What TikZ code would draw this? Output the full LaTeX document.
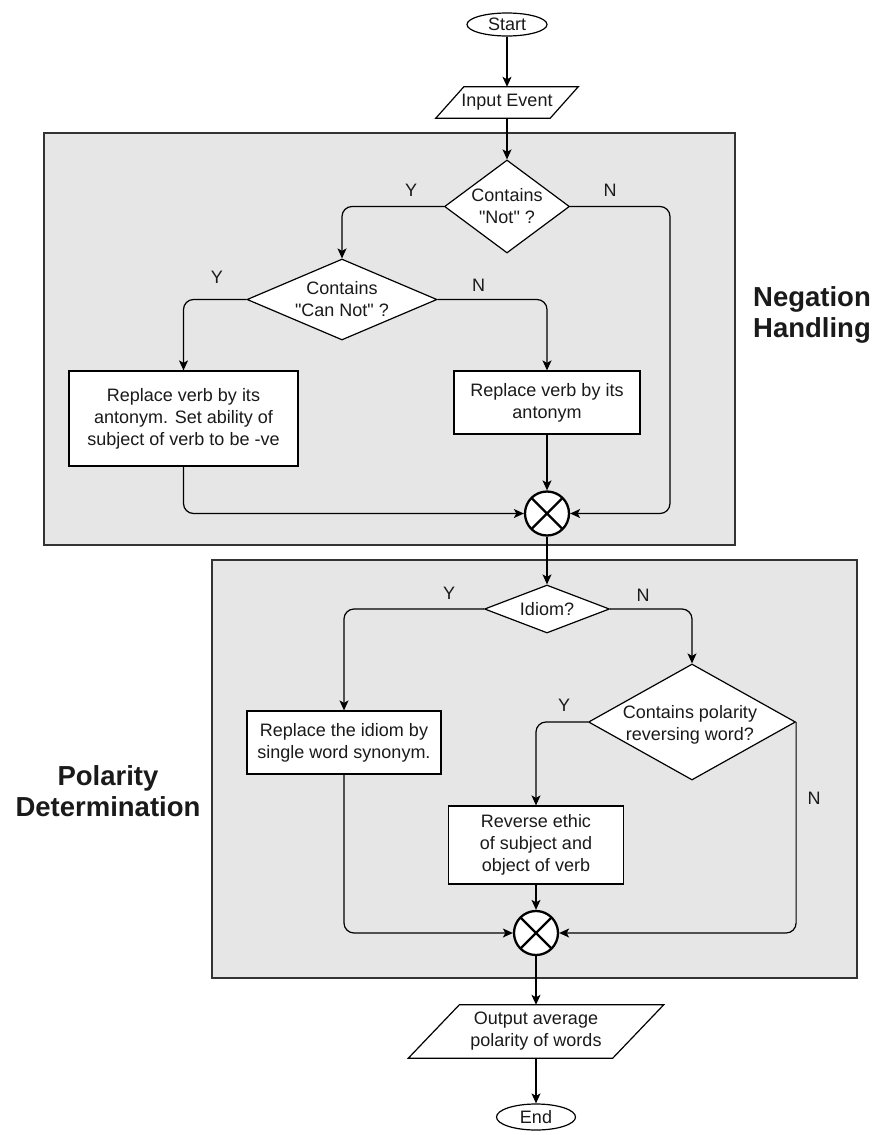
\documentclass[tikz,border=0pt]{standalone}
\usepackage{fontspec}
\newfontfamily\diagfont{Liberation Sans}
\usetikzlibrary{shapes.geometric,arrows.meta,calc}
\definecolor{secfill}{HTML}{E6E6E6}
\definecolor{secline}{HTML}{333333}
\definecolor{txt}{HTML}{1A1A1A}
\begin{document}
\begin{tikzpicture}[x=1pt,y=-1pt,
  every node/.style={text=txt,font=\diagfont\fontsize{18}{22}\selectfont},
  section/.style={draw=secline,fill=secfill,line width=1.3},
  flow/.style={draw=black,line width=1.2,rounded corners=10,-{Stealth[length=10pt,width=9pt,inset=2.5pt]}},
  terminal/.style={ellipse,draw=black,fill=white,line width=1.2,inner sep=0pt},
  procbox/.style={rectangle,draw=black,fill=white,line width=1.2,align=center,inner sep=0pt},
  decision/.style={diamond,draw=black,fill=white,line width=1.2,inner sep=0pt},
  ioshape/.style={rectangle,inner sep=0pt,align=center},
  joiner/.style={circle,draw=black,fill=white,line width=2.3,minimum size=44pt,inner sep=0pt,
    path picture={\draw[line width=2.3] (path picture bounding box.north west)--(path picture bounding box.south east)
      (path picture bounding box.north east)--(path picture bounding box.south west);}},
  yn/.style={inner sep=0pt},
  seclabel/.style={align=center,inner sep=0pt,font=\diagfont\bfseries\fontsize{27.5}{31}\selectfont}
]
\useasboundingbox (0,0) rectangle (875,1135);
\fill[white] (0,0) rectangle (875,1135);

% section backgrounds
\draw[section] (44,133) rectangle (735,545);
\draw[section] (212,560) rectangle (857,978);
\node[seclabel] (neglabel) at (812,315) {Negation\\Handling};
\node[seclabel] (pollabel) at (108,791.5) {Polarity\\Determination};

% nodes
\node[terminal,minimum width=80pt,minimum height=23pt] (start) at (507,24.5) {Start};
\node[ioshape,minimum width=114pt,minimum height=31pt] (input) at (507,102.5) {};
\draw[line width=1.2,fill=white] ($(input.south west)+(-14,0)$) -- ($(input.north west)+(14,0)$)
  -- ($(input.north east)+(14,0)$) -- ($(input.south east)+(-14,0)$) -- cycle;
\node[inner sep=0pt] (inputt) at (input) {Input Event};

\node[decision,minimum width=125pt,minimum height=93pt] (d1) at (507,206.5) {};
\node[align=center,inner sep=0pt] (d1t) at (d1) {Contains\\"Not" ?};
\node[decision,minimum width=190pt,minimum height=81pt] (d2) at (342,299.5) {};
\node[align=center,inner sep=0pt] (d2t) at (d2) {Contains\\"Can Not" ?};

\node[procbox,minimum width=229pt,minimum height=95pt] (b1) at (183.5,418.5)
  {Replace verb by its\\antonym. Set ability of\\subject of verb to be -ve};
\node[procbox,minimum width=186pt,minimum height=63pt] (b2) at (547,402.5)
  {Replace verb by its\\antonym};
\node[joiner] (c1) at (547,513.5) {};
\coordinate (nR) at (670,513.5);

\node[decision,minimum width=125pt,minimum height=48pt] (d3) at (547,609) {};
\node[inner sep=0pt] (d3t) at (d3) {Idiom?};
\node[decision,minimum width=207pt,minimum height=116pt] (d4) at (692,722) {};
\node[align=center,inner sep=0pt] (d4t) at (690,725) {Contains polarity\\reversing word?};

\node[procbox,minimum width=194pt,minimum height=63pt] (b3) at (344,742.5)
  {Replace the idiom by\\single word synonym.};
\node[procbox,minimum width=175pt,minimum height=78pt] (b4) at (536,845)
  {Reverse ethic\\of subject and\\object of verb};
\node[joiner] (c2) at (536,933) {};

\node[ioshape,minimum width=204pt,minimum height=53pt] (output) at (536,1031.5) {};
\draw[line width=1.2,fill=white] ($(output.south west)+(-25.5,0)$) -- ($(output.north west)+(25.5,0)$)
  -- ($(output.north east)+(25.5,0)$) -- ($(output.south east)+(-25.5,0)$) -- cycle;
\node[align=center,inner sep=0pt] (outputt) at (output) {Output average\\polarity of words};
\node[terminal,minimum width=79pt,minimum height=26pt] (end) at (536,1117) {End};

% connectors
\draw[flow] (start) -- (input);
\draw[flow] (input.south) -- (d1.north);
\draw[flow] (d1.west) -| (d2.north);
\draw[flow] (d1.east) -| (nR) -- (c1.east);
\draw[flow] (d2.west) -| (b1.north);
\draw[flow] (d2.east) -| (b2.north);
\draw[flow] (b2.south) -- (c1.north);
\draw[flow] (b1.south) |- (c1.west);
\draw[flow] (c1.south) -- (d3.north);
\draw[flow] (d3.west) -| (b3.north);
\draw[flow] (d3.east) -| (d4.north);
\draw[flow] (d4.west) -| (b4.north);
\draw[flow] (d4.east) |- (c2.east);
\draw[flow] (b4.south) -- (c2.north);
\draw[flow] (b3.south) |- (c2.west);
\draw[flow] (c2.south) -- (output.north);
\draw[flow] (output.south) -- (end.north);

% Y / N labels
\node[yn] (y1) at (411,190) {Y};
\node[yn] (n1) at (610,190) {N};
\node[yn] (y2) at (217,277) {Y};
\node[yn] (n2) at (478.5,285) {N};
\node[yn] (y3) at (449,593.5) {Y};
\node[yn] (n3) at (643,595) {N};
\node[yn] (y4) at (564,705) {Y};
\node[yn] (n4) at (814,798) {N};
\end{tikzpicture}
\end{document}
